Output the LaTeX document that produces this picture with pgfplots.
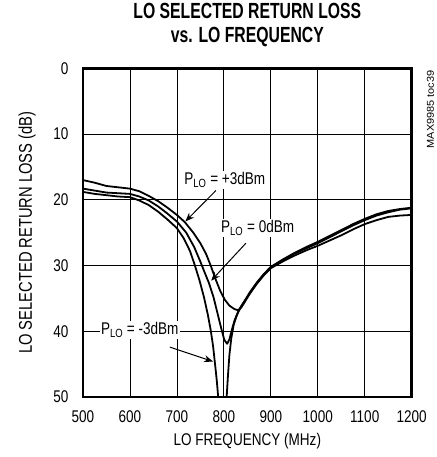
\documentclass[border=0pt]{standalone}
\usepackage{fontspec}
\setmainfont{Liberation Sans}[FakeStretch=0.8]
\newfontfamily\titlefont{Liberation Sans}[FakeStretch=0.72]
\newfontfamily\tocfont{Liberation Sans}[FakeStretch=1.1]
\usepackage{pgfplots}
\pgfplotsset{compat=1.18}
\usetikzlibrary{arrows.meta}

% +3 dBm
\pgfplotstableread{
f rl
500 17.0
525 17.4
550 17.9
575 18.1
600 18.3
620 18.7
640 19.4
660 20.2
680 21.2
700 22.3
717 23.4
735 25.0
750 26.6
762 28.2
772 30.0
782 32.0
792 33.8
802 35.2
812 36.1
822 36.6
830 36.8
837 36.4
845 35.5
855 34.3
870 32.7
885 31.4
900 30.3
925 29.2
950 28.2
975 27.4
1000 26.6
1025 25.7
1050 24.8
1075 23.9
1100 23.1
1125 22.4
1150 21.9
1175 21.5
1200 21.3
}\plusthree

% 0 dBm
\pgfplotstableread{
f rl
500 18.3
525 18.6
550 18.9
575 19.0
600 19.1
620 19.5
640 20.1
660 21.0
680 22.1
700 23.3
720 25.0
737 27.2
750 29.4
760 31.2
768 32.6
778 34.8
787 37.4
795 39.7
801 41.3
807 41.9
812 41.2
817 39.8
823 38.3
830 37.1
838 36.1
845 35.3
855 34.1
870 32.6
885 31.3
900 30.2
925 29.1
950 28.1
975 27.2
1000 26.4
1025 25.5
1050 24.6
1075 23.7
1100 22.9
1125 22.2
1150 21.7
1175 21.4
1200 21.2
}\zero

% -3 dBm
\pgfplotstableread{
f rl
500 18.8
525 19.1
550 19.3
575 19.5
600 19.6
620 20.1
640 20.8
660 21.8
680 23.0
700 24.3
715 25.9
728 27.8
738 29.9
748 32.2
758 34.9
766 37.5
772 39.8
777 42.2
781 44.8
785 47.5
788 50.0
791 53.0
803 53.0
806 50.0
809 46.5
812 43.5
816 41.0
821 39.0
828 37.5
836 36.3
845 35.3
855 34.3
870 32.8
885 31.5
900 30.4
925 29.4
950 28.5
975 27.7
1000 27.0
1025 26.2
1050 25.4
1075 24.5
1100 23.7
1125 23.1
1150 22.6
1175 22.4
1200 22.3
}\minusthree

\begin{document}
\begin{tikzpicture}
\begin{axis}[
  scale only axis,
  width=329bp, height=329bp,
  xmin=500, xmax=1200,
  ymin=0, ymax=50,
  y dir=reverse,
  xtick={500,600,...,1200},
  ytick={0,10,...,50},
  grid=major,
  major grid style={black, line width=0.7pt},
  axis line style={line width=2.5pt},
  major tick length=0pt,
  /pgf/number format/1000 sep={},
  tick label style={font=\fontsize{17}{19}\selectfont,
    /pgf/number format/assume math mode=true},
  xticklabel style={yshift=-10bp},
  yticklabel style={xshift=-11bp},
  xlabel={LO FREQUENCY (MHz)},
  xlabel style={font=\fontsize{17}{19}\selectfont,
    at={(axis description cs:0.5,-0.134)}, anchor=center},
  ylabel={LO SELECTED RETURN LOSS (dB)},
  ylabel style={font=\fontsize{18.5}{20}\selectfont,
    at={(axis description cs:-0.17,0.5)}, anchor=center},
  title={LO SELECTED RETURN LOSS\\vs. LO FREQUENCY},
  title style={font=\titlefont\bfseries\fontsize{22}{24}\selectfont,
    align=center, at={(axis description cs:0.5,1)}, anchor=south, yshift=12bp},
]
\addplot[black, line width=1.8pt, line join=round] table[x=f, y=rl] {\plusthree};
\addplot[black, line width=1.8pt, line join=round] table[x=f, y=rl] {\zero};
\addplot[black, line width=1.8pt, line join=round] table[x=f, y=rl] {\minusthree};

\coordinate (sw) at (rel axis cs:0,0);

\begin{scope}[font=\fontsize{17}{19}\selectfont]
\draw[line width=1pt, -{Stealth[length=9bp, width=7bp]}] (axis cs:783,18.6) -- (axis cs:718,23.3);
\draw[line width=1pt, -{Stealth[length=9bp, width=7bp]}] (axis cs:847,26.6) -- (axis cs:773,32.3);
\draw[line width=1pt, -{Stealth[length=9bp, width=7bp]}] (axis cs:685,42.4) -- (axis cs:777,44.6);
\node[fill=white, inner sep=1.5pt] at (axis cs:802,17.0) {P\textsubscript{LO} = +3dBm};
\node[fill=white, inner sep=1.5pt] at (axis cs:872,24.3) {P\textsubscript{LO} = 0dBm};
\node[fill=white, inner sep=1.5pt] at (axis cs:621,39.8) {P\textsubscript{LO} = -3dBm};
\end{scope}
\end{axis}
\node[rotate=90, anchor=north east, font=\tocfont\fontsize{10}{11}\selectfont, inner sep=0pt]
  at ([shift={(344bp,327bp)}]sw) {MAX9985 toc39};
\path[use as bounding box] ([shift={(-83bp,-60bp)}]sw) rectangle ++(437bp,457bp);
\end{tikzpicture}
\end{document}
